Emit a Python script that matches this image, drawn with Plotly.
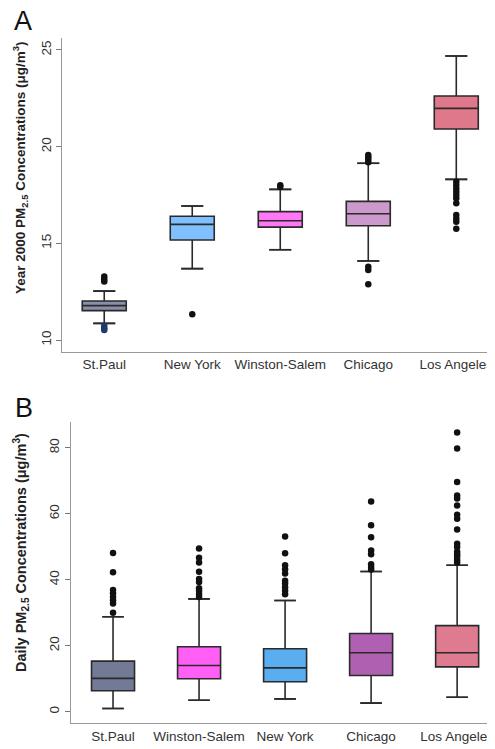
import plotly.graph_objects as go

# ---------------- Panel A: Year 2000 PM2.5 ----------------
cities_a = ["St.Paul", "New York", "Winston-Salem", "Chicago", "Los Angeles"]
colors_a = ["#8890aa", "#80c0ff", "#ff77f5", "#cc99cc", "#e0788c"]
lower_a = [10.86, 13.69, 14.67, 14.09, 18.31]
q1_a = [11.52, 15.17, 15.84, 15.91, 20.91]
med_a = [11.78, 15.98, 16.17, 16.53, 21.98]
q3_a = [12.02, 16.40, 16.64, 17.17, 22.62]
upper_a = [12.53, 16.93, 17.79, 19.14, 24.69]
outliers_a = [
    [13.28, 13.14, 13.02, 10.72, 10.60, 10.52],
    [11.33],
    [18.00, 17.93],
    [19.57, 19.45, 19.33, 19.20, 13.79, 13.62, 12.88],
    [18.19, 18.02, 17.84, 17.67, 17.50, 17.33, 17.07, 16.47, 16.29, 16.12, 15.76],
]
outlier_colors_a = [
    ["#111", "#111", "#111", "#1f3a6e", "#1f3a6e", "#1f3a6e"],
    ["#111"],
    ["#111", "#111"],
    ["#111"] * 7,
    ["#111"] * 11,
]
yticks_a = [10, 15, 20, 25]

# ---------------- Panel B: Daily PM2.5 ----------------
cities_b = ["St.Paul", "Winston-Salem", "New York", "Chicago", "Los Angeles"]
colors_b = ["#737a96", "#ff5ff5", "#5aaef0", "#b060b0", "#df7b90"]
lower_b = [1.0, 3.5, 3.9, 2.6, 4.4]
q1_b = [6.36, 10.0, 9.1, 11.0, 13.6]
med_b = [10.1, 14.0, 13.3, 17.9, 17.9]
q3_b = [15.35, 19.7, 19.1, 23.7, 26.1]
upper_b = [28.8, 34.2, 33.7, 42.5, 44.4]
outliers_b = [
    [48.1, 42.3, 36.9, 35.9, 34.8, 33.8, 32.8, 30.0],
    [49.5, 46.7, 45.2, 42.4, 40.2, 39.3, 37.4, 36.6, 35.7, 34.8],
    [53.1, 48.0, 44.4, 43.2, 41.9, 39.7, 38.9, 37.7, 36.7, 35.6],
    [63.7, 56.5, 52.9, 48.9, 47.7, 44.7, 43.9, 43.1],
    [84.6, 79.8, 69.6, 65.5, 64.6, 62.5, 59.7, 58.5, 55.2, 50.9, 49.9,
     48.5, 47.7, 47.0, 46.0, 45.2],
]
yticks_b = [0, 20, 40, 60, 80]

W, H = 495, 749
OFF = 8  # page body margin offset compensation (px)
BOX_W = 0.5
CAP = 0.125
LINE = "#2a2a2a"
FONT = "Liberation Sans, Arial, sans-serif"

fig = go.Figure()


def px_x(sx):
    return (sx - OFF) / W


def px_y(sy):
    return 1 - (sy - OFF) / H


def add_panel(cities, colors, lower, q1, med, q3, upper, outliers, ocolors, xa, ya):
    for i, c in enumerate(cities):
        pos = i + 1
        fig.add_trace(go.Box(
            x=[pos], q1=[q1[i]], median=[med[i]], q3=[q3[i]],
            lowerfence=[lower[i]], upperfence=[upper[i]],
            width=BOX_W, fillcolor=colors[i],
            line=dict(color=LINE, width=1.6), boxpoints=False,
            xaxis=xa, yaxis=ya, showlegend=False, hoverinfo="skip",
        ))
        fig.add_trace(go.Scatter(
            x=[pos - CAP, pos + CAP, None, pos - CAP, pos + CAP],
            y=[lower[i], lower[i], None, upper[i], upper[i]],
            mode="lines", line=dict(color=LINE, width=1.6),
            xaxis=xa, yaxis=ya, showlegend=False, hoverinfo="skip",
        ))
        fig.add_trace(go.Scatter(
            x=[pos] * len(outliers[i]), y=outliers[i], mode="markers",
            marker=dict(color=ocolors[i] if ocolors else "#111", size=6.5),
            xaxis=xa, yaxis=ya, showlegend=False, hoverinfo="skip",
        ))


add_panel(cities_a, colors_a, lower_a, q1_a, med_a, q3_a, upper_a,
          outliers_a, outlier_colors_a, "x", "y")
add_panel(cities_b, colors_b, lower_b, q1_b, med_b, q3_b, upper_b,
          outliers_b, None, "x2", "y2")

tickfont = dict(family=FONT, size=13.5, color="#333")
common_x = dict(showline=True, linecolor="#999", linewidth=1.2, ticks="",
                showgrid=False, zeroline=False, tickfont=tickfont,
                tickvals=[1, 2, 3, 4, 5])
common_y = dict(showline=True, linecolor="#999", linewidth=1.2, ticks="outside",
                ticklen=5, tickcolor="#777", showgrid=False, zeroline=False,
                tickfont=tickfont, tickangle=-90)

fig.update_layout(
    width=W, height=H, margin=dict(l=0, r=0, t=0, b=0),
    plot_bgcolor="white", paper_bgcolor="white",
    xaxis=dict(common_x, domain=[px_x(62), 1], range=[0.52, 5.44 + OFF / 88],
               ticktext=cities_a, anchor="y"),
    yaxis=dict(common_y, domain=[px_y(352), px_y(38)], range=[9.38, 25.62],
               tickvals=yticks_a, anchor="x"),
    xaxis2=dict(common_x, domain=[px_x(70.7), 1], range=[0.508, 5.44 + OFF / 86],
                ticktext=cities_b, anchor="y2"),
    yaxis2=dict(common_y, domain=[px_y(723.3), px_y(421.7)], range=[-3.5, 87.9],
                tickvals=yticks_b, anchor="x2"),
    annotations=[
        dict(text="A", x=px_x(23), y=px_y(21), xref="paper", yref="paper",
             xanchor="center", yanchor="middle",
             showarrow=False, font=dict(family=FONT, size=27, color="#111")),
        dict(text="B", x=px_x(24), y=px_y(408), xref="paper", yref="paper",
             xanchor="center", yanchor="middle",
             showarrow=False, font=dict(family=FONT, size=27, color="#111")),
        dict(text="<b>Year 2000 PM<sub>2.5</sub> Concentrations (μg/m<sup>3</sup>)</b>",
             x=px_x(20), y=px_y(168), xref="paper", yref="paper", textangle=-90,
             xanchor="center", yanchor="middle",
             showarrow=False, font=dict(family=FONT, size=13.5, color="#222")),
        dict(text="<b>Daily PM<sub>2.5</sub> Concentrations (μg/m<sup>3</sup>)</b>",
             x=px_x(21), y=px_y(553), xref="paper", yref="paper", textangle=-90,
             xanchor="center", yanchor="middle",
             showarrow=False, font=dict(family=FONT, size=14.5, color="#222")),
    ],
)

fig.write_html("out.html")
